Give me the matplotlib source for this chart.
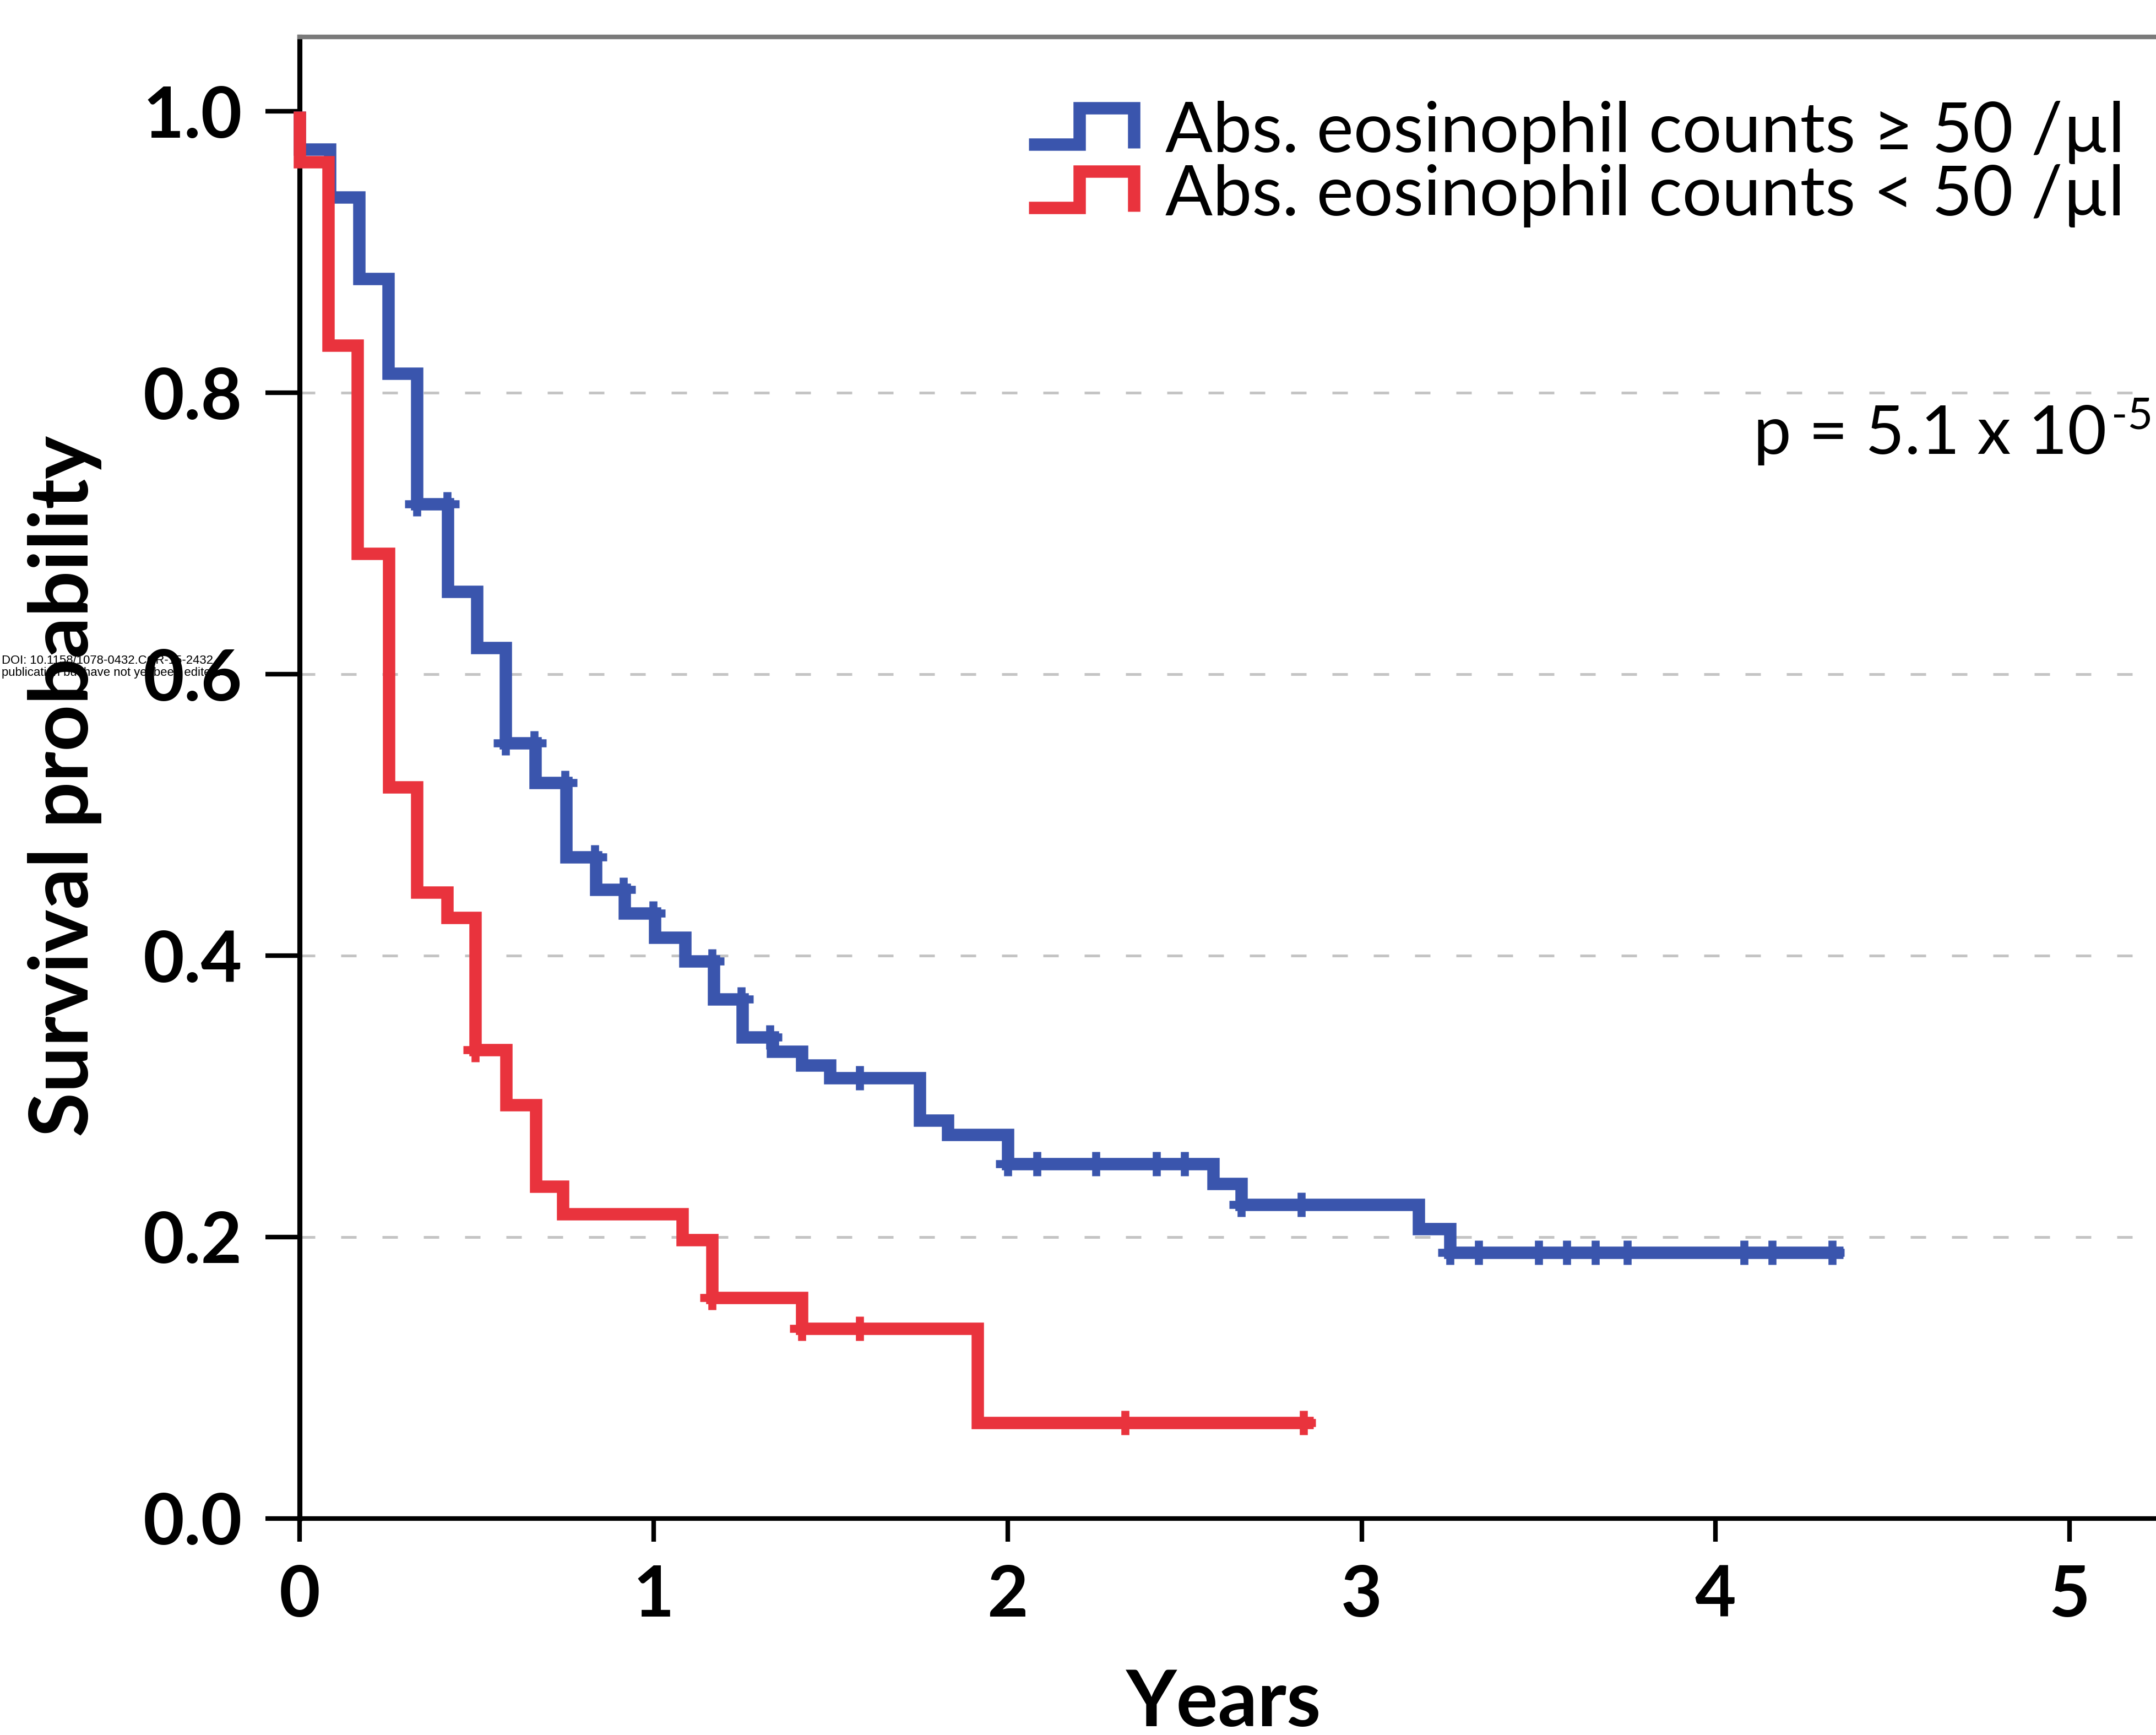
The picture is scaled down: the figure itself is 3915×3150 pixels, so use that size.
import numpy as np
import matplotlib
matplotlib.use('Agg')
import matplotlib.pyplot as plt
from matplotlib.lines import Line2D
from matplotlib.legend_handler import HandlerBase

# ---- data ----
year_ticks = [0, 1, 2, 3, 4, 5]
prob_ticks = [0.0, 0.2, 0.4, 0.6, 0.8, 1.0]
prob_labels = ['0.0', '0.2', '0.4', '0.6', '0.8', '1.0']
grid_levels = [0.2, 0.4, 0.6, 0.8]

# eosinophils >= 50 /ul  (event times, survival after each event)
high_times = [0.0, 0.085, 0.168, 0.250, 0.331, 0.418, 0.501, 0.582, 0.666, 0.753,
              0.836, 0.918, 1.003, 1.088, 1.169, 1.250, 1.336, 1.418, 1.498, 1.752,
              1.831, 2.000, 2.581, 2.660, 3.161, 3.250]
high_surv = [0.973, 0.939, 0.881, 0.814, 0.721, 0.659, 0.619, 0.551, 0.523, 0.470,
             0.447, 0.430, 0.413, 0.396, 0.369, 0.342, 0.332, 0.322, 0.313, 0.283,
             0.273, 0.252, 0.238, 0.223, 0.206, 0.189]
high_end = 4.36
high_censor = [0.331, 0.416, 0.582, 0.663, 0.749, 0.833, 0.915, 0.999, 1.165, 1.247,
               1.328, 1.582, 2.000, 2.083, 2.250, 2.420, 2.500, 2.660, 2.830, 3.250,
               3.330, 3.500, 3.580, 3.660, 3.750, 4.080, 4.160, 4.330]

# eosinophils < 50 /ul
low_times = [0.0, 0.081, 0.163, 0.252, 0.331, 0.416, 0.496, 0.583, 0.667, 0.744,
             1.081, 1.165, 1.419, 1.915]
low_surv = [0.964, 0.834, 0.686, 0.520, 0.445, 0.427, 0.333, 0.294, 0.236, 0.2165,
            0.198, 0.157, 0.135, 0.068]
low_end = 2.864
low_censor = [0.496, 1.165, 1.419, 1.582, 2.331, 2.836]

labels = ['Abs. eosinophil counts \u2265 50 /\u00b5l', 'Abs. eosinophil counts < 50 /\u00b5l']
p_main = 'p = 5.1 x 10'
p_exp = '-5'
blue = '#3a55ad'
red = '#e9333d'

plt.rcParams['font.family'] = ['Lato', 'DejaVu Sans']


def km_xy(times, surv, end):
    t = np.r_[0.0, times, end]
    s = np.r_[1.0, surv, surv[-1]]
    return t, s


def censor_y(times, surv, cens):
    idx = np.searchsorted(times, cens, side='right') - 1
    return np.asarray(surv)[idx]


class StepHandler(HandlerBase):
    # little step icon like the original legend
    def create_artists(self, legend, orig_handle, xdescent, ydescent, width, height, fontsize, trans):
        xs = np.array([0, 0.48, 0.48, 1.0, 1.0]) * width - xdescent
        ys = np.array([0.1, 0.1, 0.95, 0.95, 0.0]) * height - ydescent
        ln = Line2D(xs, ys, color=orig_handle.get_color(), lw=orig_handle.get_linewidth(),
                    solid_joinstyle='miter', solid_capstyle='butt')
        ln.set_transform(trans)
        return [ln]


fig = plt.figure(figsize=(13.05, 10.5), dpi=300)
ax = fig.add_axes([0.1390, 0.1248, 0.8610, 0.8539])

for g in grid_levels:
    ax.axhline(g, color='#c4c4c4', lw=1.2, ls=(0, (5.6, 9.4)), zorder=1)

lines = []
for times, surv, end, cens, col in [(high_times, high_surv, high_end, high_censor, blue),
                                    (low_times, low_surv, low_end, low_censor, red)]:
    t, s = km_xy(times, surv, end)
    ln, = ax.step(t, s, where='post', color=col, lw=5.4, clip_on=False, zorder=3,
                  solid_joinstyle='miter', solid_capstyle='butt')
    ax.plot(cens, censor_y(times, surv, cens), '+', color=col, ms=10.5, mew=3.5,
            clip_on=False, zorder=4)
    lines.append(ln)

ax.set_xlim(0, 5.244)
ax.set_ylim(0, 1.053)
ax.set_xticks(year_ticks)
ax.set_xticklabels([str(v) for v in year_ticks])
ax.set_yticks(prob_ticks)
ax.set_yticklabels(prob_labels)
ax.tick_params(axis='y', length=15, width=2, pad=10, labelsize=31, direction='out')
ax.tick_params(axis='x', length=10, width=2, pad=10, labelsize=31, direction='out')
for lab in ax.get_xticklabels() + ax.get_yticklabels():
    lab.set_fontweight('bold')

ax.spines['right'].set_visible(False)
ax.spines['left'].set_linewidth(2.2)
ax.spines['bottom'].set_linewidth(2.0)
ax.spines['top'].set_linewidth(2.0)
ax.spines['top'].set_color('#7a7a7a')

leg = ax.legend(lines, labels, handler_map={Line2D: StepHandler()},
                loc='upper right', bbox_to_anchor=(0.9856, 0.9420),
                bbox_transform=fig.transFigure, frameon=False, borderpad=0,
                borderaxespad=0, handlelength=1.5, handleheight=0.56,
                handletextpad=0.45, labelspacing=0.0, fontsize=30.5)

ptxt = ax.text(5.105, 0.7566, p_main, ha='right', va='baseline', fontsize=29.5)
ax.annotate(p_exp, xy=(5.105, 0.7566), xycoords='data', xytext=(2, 11),
            textcoords='offset points', ha='left', va='baseline', fontsize=19)

fig.text(0.030, 0.547, 'Survival probability', rotation=90, ha='center', va='center',
         fontsize=35.5, fontweight='bold')
fig.text(0.5676, 0.0052, 'Years', ha='center', va='baseline', fontsize=34, fontweight='bold')

# journal watermark at the left edge
fig.text(0.0008, 1 - 1205 / 3150, 'DOI: 10.1158/1078-0432.CCR-15-2432',
         ha='left', va='baseline', fontsize=5.3, family='Liberation Sans', zorder=10)
fig.text(0.0008, 1 - 1227 / 3150, 'publication but have not yet been edited.',
         ha='left', va='baseline', fontsize=5.3, family='Liberation Sans', zorder=10)

fig.savefig('out.png', dpi=300)
